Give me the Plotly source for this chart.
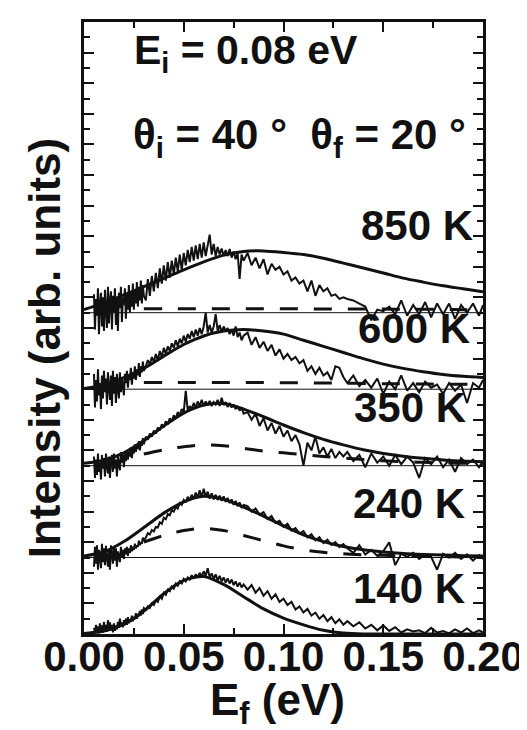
import plotly.graph_objects as go

# ---------------- data ----------------
temperatures = ["850 K", "600 K", "350 K", "240 K", "140 K"]
offsets = [10.5, 8.0, 5.5, 2.5, 0.0]

ef = [0.0050, 0.0055, 0.0060, 0.0065, 0.0070, 0.0075, 0.0080, 0.0085, 0.0090, 0.0095,
      0.0100, 0.0105, 0.0110, 0.0115, 0.0120, 0.0125, 0.0130, 0.0135, 0.0140, 0.0145,
      0.0150, 0.0155, 0.0160, 0.0165, 0.0170, 0.0175, 0.0180, 0.0185, 0.0190, 0.0195,
      0.0200, 0.0205, 0.0210, 0.0215, 0.0220, 0.0225, 0.0230, 0.0235, 0.0240, 0.0245,
      0.0250, 0.0255, 0.0260, 0.0265, 0.0270, 0.0275, 0.0280, 0.0285, 0.0290, 0.0295, 0.0300,
      0.031, 0.032, 0.033, 0.034, 0.035, 0.036, 0.037, 0.038, 0.039, 0.040,
      0.041, 0.042, 0.043, 0.044, 0.045, 0.046, 0.047, 0.048, 0.049, 0.050,
      0.051, 0.052, 0.053, 0.054, 0.055, 0.056, 0.057, 0.058, 0.059, 0.060,
      0.061, 0.062, 0.063, 0.064, 0.065, 0.066, 0.067, 0.068, 0.069, 0.070,
      0.071, 0.072, 0.073, 0.074, 0.075, 0.076, 0.077, 0.078, 0.079, 0.080,
      0.082, 0.084, 0.086, 0.088, 0.090, 0.092, 0.094, 0.096, 0.098, 0.100,
      0.102, 0.104, 0.106, 0.108, 0.110, 0.112, 0.114, 0.116, 0.118, 0.120,
      0.122, 0.124, 0.126, 0.128, 0.130,
      0.132, 0.135, 0.138, 0.141, 0.144, 0.147, 0.150, 0.153, 0.156, 0.159,
      0.162, 0.165, 0.168, 0.171, 0.174, 0.177, 0.180, 0.183, 0.186, 0.189,
      0.192, 0.195, 0.198, 0.200]

data_850 = [0.60, -0.55, 0.45, -0.10, 0.80, -0.70, 0.30, 0.65, -0.45, 0.50,
            -0.60, 0.75, 0.10, -0.50, 0.85, -0.35, 0.40, 0.70, -0.55, 0.55,
            0.00, 0.80, -0.40, 0.45, -0.60, 0.65, 0.15, 0.85, -0.30, 0.50,
            0.25, 0.80, -0.20, 0.60, 0.10, 0.90, 0.00, 0.70, 0.20, 0.95,
            0.10, 0.75, 0.30, 1.00, 0.20, 0.85, 0.40, 1.05, 0.30, 0.90, 0.55,
            0.40, 1.10, 0.55, 1.20, 0.70, 1.30, 0.80, 1.45, 0.95, 1.55,
            1.05, 1.65, 1.15, 1.70, 1.25, 1.80, 1.35, 1.90, 1.40, 1.95,
            1.55, 2.05, 1.65, 2.15, 1.70, 2.20, 1.75, 2.25, 1.80, 2.30,
            1.85, 2.20, 2.55, 1.90, 2.25, 1.85, 2.15, 1.90, 2.10, 1.85,
            2.05, 1.85, 2.08, 1.80, 2.00, 1.75, 1.95, 1.10, 1.90, 1.70,
            1.95, 1.55, 1.80, 1.45, 1.75, 1.25, 1.60, 1.40, 1.50, 1.25,
            1.35, 1.05, 1.15, 0.95, 1.05, 0.70, 1.05, 0.55, 0.90, 0.70,
            0.80, 0.55, 0.60, 0.45, 0.50,
            0.45, 0.40, 0.30, 0.20, -0.25, 0.10, 0.05, 0.20, -0.05, 0.40,
            -0.10, 0.25, -0.05, 0.35, -0.15, 0.30, -0.05, 0.30, -0.20, 0.25,
            0.00, 0.30, -0.10, 0.25]

data_600 = [0.50, -0.60, 0.30, -0.40, 0.65, -0.20, 0.20, -0.65, 0.45, -0.30,
            0.60, -0.10, 0.35, -0.50, 0.55, 0.05, -0.35, 0.45, -0.55, 0.60,
            -0.15, 0.40, -0.45, 0.50, 0.00, -0.30, 0.55, -0.10, 0.40, 0.10,
            -0.20, 0.50, 0.20, 0.60, 0.05, 0.45, 0.30, 0.70, 0.15, 0.55,
            0.35, 0.75, 0.30, 0.65, 0.45, 0.85, 0.40, 0.75, 0.55, 0.90, 0.60,
            0.75, 0.95, 0.80, 1.05, 0.90, 1.15, 0.95, 1.25, 1.05, 1.35,
            1.15, 1.40, 1.25, 1.50, 1.35, 1.60, 1.40, 1.65, 1.50, 1.75,
            1.55, 1.80, 1.65, 1.90, 1.70, 1.95, 1.75, 2.00, 1.80, 2.05,
            2.50, 1.85, 2.10, 1.85, 2.05, 2.45, 1.90, 2.10, 1.85, 2.05,
            1.90, 2.00, 1.80, 1.95, 1.75, 2.05, 1.70, 1.85, 1.60, 1.75,
            1.85, 1.45, 1.70, 1.35, 1.55, 1.25, 1.45, 1.10, 1.30, 1.00,
            1.15, 0.95, 1.05, 0.85, 0.95, 0.60, 0.75, 0.50, 0.70, 0.45,
            0.55, 0.30, 0.75, 0.70, 0.40,
            0.20, 0.45, 0.10, 0.30, 0.05, 0.35, -0.15, 0.25, 0.00, 0.45,
            -0.05, 0.20, -0.10, 0.25, 0.05, 0.15, -0.15, 0.20, -0.05, 0.15,
            -0.45, 0.20, 0.05, 0.30]

data_350 = [0.30, -0.40, 0.20, -0.30, 0.40, -0.20, 0.10, -0.45, 0.35, -0.10,
            0.25, -0.35, 0.40, 0.00, -0.25, 0.30, -0.40, 0.15, 0.35, -0.20,
            0.40, -0.10, 0.20, -0.35, 0.30, 0.05, -0.15, 0.45, 0.10, 0.35,
            -0.05, 0.40, 0.15, 0.50, 0.20, 0.45, 0.30, 0.60, 0.25, 0.55,
            0.40, 0.70, 0.45, 0.65, 0.55, 0.80, 0.50, 0.75, 0.65, 0.90, 0.70,
            0.95, 0.85, 1.05, 0.95, 1.15, 1.05, 1.25, 1.15, 1.35, 1.25,
            1.45, 1.35, 1.55, 1.45, 1.65, 1.55, 1.75, 1.65, 1.85, 1.75,
            2.45, 1.80, 1.95, 1.85, 2.05, 1.90, 2.10, 1.95, 2.15, 1.95,
            2.10, 1.98, 2.12, 1.95, 2.08, 2.00, 2.15, 1.95, 2.22, 1.98,
            2.08, 1.92, 2.05, 1.90, 2.00, 1.85, 1.95, 1.80, 1.90, 1.70,
            1.75, 1.50, 1.70, 1.30, 1.55, 1.15, 1.40, 1.05, 1.30, 0.95,
            1.15, 0.80, 1.00, 0.70, 0.00, 0.75, 0.50, 0.95, 0.40, 0.60,
            0.30, 0.55, 0.25, 0.45, 0.30,
            0.45, 0.15, 0.35, -0.05, 0.40, 0.10, 0.30, 0.00, 0.35, 0.05,
            0.30, 0.10, -0.40, 0.25, 0.05, 0.30, -0.05, 0.20, -0.20, 0.25,
            0.05, 0.20, -0.05, 0.15]

data_240 = [-0.30, 0.35, -0.20, 0.40, -0.40, 0.25, 0.05, -0.35, 0.45, -0.15,
            0.30, -0.25, 0.38, 0.00, -0.30, 0.25, -0.40, 0.40, 0.10, -0.20,
            0.35, -0.10, 0.30, -0.30, 0.20, 0.05, -0.15, 0.35, 0.00, 0.25,
            -0.05, 0.30, 0.10, 0.35, 0.05, 0.30, 0.15, 0.40, 0.20, 0.35,
            0.25, 0.45, 0.30, 0.40, 0.35, 0.55, 0.40, 0.50, 0.45, 0.65, 0.55,
            0.65, 0.80, 0.75, 0.90, 0.85, 1.00, 0.98, 1.15, 1.10, 1.30,
            1.25, 1.42, 1.38, 1.55, 1.50, 1.65, 1.60, 1.78, 1.72, 1.88,
            1.80, 1.98, 1.88, 2.05, 1.92, 2.12, 1.95, 2.20, 1.95, 2.25,
            1.98, 2.15, 1.92, 2.10, 1.90, 2.05, 1.88, 2.02, 1.85, 2.00,
            1.82, 1.95, 1.78, 1.90, 1.72, 1.85, 1.68, 1.80, 1.62, 1.72,
            1.68, 1.50, 1.60, 1.40, 1.48, 1.26, 1.36, 1.13, 1.20, 1.00,
            1.10, 0.88, 0.96, 0.78, 0.86, 0.66, 0.76, 0.56, 0.66, 0.47,
            0.58, 0.41, 0.50, 0.34, 0.44,
            0.30, 0.15, 0.40, 0.10, 0.25, 0.05, 0.20, 0.50, -0.25, 0.12,
            0.02, 0.15, -0.05, 0.10, 0.02, -0.40, 0.12, 0.00, 0.15, -0.05,
            0.10, -0.10, 0.08, -0.05]

data_140 = [0.20, 0.05, 0.30, 0.10, 0.25, 0.02, 0.35, 0.12, 0.28, 0.05,
            0.40, 0.15, 0.30, 0.08, 0.45, 0.18, 0.38, 0.12, 0.30, 0.05,
            0.35, 0.10, 0.28, 0.15, 0.40, 0.20, 0.50, 0.25, 0.38, 0.22,
            0.45, 0.28, 0.50, 0.30, 0.55, 0.35, 0.48, 0.40, 0.60, 0.42,
            0.55, 0.48, 0.68, 0.50, 0.62, 0.58, 0.75, 0.60, 0.80, 0.65, 0.85,
            0.80, 0.90, 0.85, 1.00, 0.95, 1.10, 1.05, 1.22, 1.15, 1.35,
            1.28, 1.45, 1.40, 1.55, 1.48, 1.65, 1.58, 1.72, 1.65, 1.80,
            1.72, 1.85, 1.78, 1.92, 1.82, 1.95, 1.85, 2.00, 1.88, 2.05,
            1.90, 2.15, 1.85, 1.98, 1.80, 1.95, 1.75, 1.90, 1.72, 1.85,
            1.68, 1.82, 1.65, 1.78, 1.60, 1.72, 1.55, 1.68, 1.52, 1.62,
            1.45, 1.60, 1.35, 1.50, 1.25, 1.40, 1.15, 1.30, 1.05, 1.15,
            0.95, 1.05, 0.80, 0.90, 0.70, 0.82, 0.60, 0.70, 0.50, 0.62,
            0.42, 0.55, 0.35, 0.48, 0.30,
            0.42, 0.25, 0.38, 0.18, 0.30, 0.12, 0.28, 0.10, 0.22, 0.05,
            0.15, 0.08, 0.12, 0.03, 0.20, 0.05, 0.10, 0.02, 0.15, 0.05,
            0.18, 0.03, 0.12, 0.05]

fit_x = [0.00, 0.01, 0.02, 0.03, 0.04, 0.05, 0.06, 0.07, 0.08, 0.09, 0.10,
         0.11, 0.12, 0.13, 0.14, 0.15, 0.16, 0.17, 0.18, 0.19, 0.20]
fit_850 = [0.10, 0.32, 0.58, 0.85, 1.12, 1.40, 1.66, 1.88, 2.00, 2.02, 1.97,
           1.90, 1.78, 1.62, 1.46, 1.30, 1.13, 1.00, 0.88, 0.78, 0.68]
fit_600 = [0.02, 0.15, 0.38, 0.68, 1.08, 1.46, 1.74, 1.90, 1.95, 1.90, 1.80,
           1.60, 1.40, 1.20, 1.00, 0.82, 0.68, 0.57, 0.48, 0.42, 0.38]
fit_350 = [0.08, 0.18, 0.42, 0.82, 1.30, 1.72, 1.98, 2.03, 1.85, 1.60, 1.33,
           1.08, 0.86, 0.68, 0.52, 0.40, 0.31, 0.24, 0.19, 0.15, 0.13]
fit_240 = [0.05, 0.18, 0.52, 0.98, 1.45, 1.82, 2.00, 1.90, 1.65, 1.35, 1.03,
           0.74, 0.52, 0.36, 0.25, 0.18, 0.13, 0.10, 0.08, 0.06, 0.05]
fit_140 = [0.02, 0.10, 0.32, 0.75, 1.32, 1.75, 1.88, 1.62, 1.22, 0.82, 0.52,
           0.30, 0.12, 0.03, 0.00, 0.00, 0.00, 0.00, 0.00, 0.00, 0.00]

dash_x = [0.03, 0.04, 0.05, 0.06, 0.07, 0.08, 0.09, 0.10, 0.11,
          0.12, 0.13, 0.14, 0.15, 0.16, 0.17, 0.18, 0.19, 0.20]
dash_850 = [0.13, 0.13, 0.13, 0.13, 0.13, 0.13, 0.13, 0.13, 0.13,
            0.12, 0.12, 0.12, 0.12, 0.11, 0.11, 0.11, 0.10, 0.10]
dash_600 = [0.22, 0.22, 0.22, 0.22, 0.22, 0.22, 0.22, 0.21, 0.21,
            0.20, 0.20, 0.19, 0.18, 0.18, 0.17, 0.16, 0.16, 0.15]
dash_350 = [0.38, 0.52, 0.62, 0.68, 0.65, 0.57, 0.48, 0.42, 0.36,
            0.30, 0.25, 0.20, 0.16, 0.13, 0.11, 0.09, 0.08, 0.07]
dash_240 = [0.50, 0.72, 0.88, 0.95, 0.88, 0.72, 0.55, 0.38, 0.25,
            0.17, 0.12, 0.09, 0.07, 0.05, 0.04, 0.03, 0.02, 0.02]

data_sets = [data_850, data_600, data_350, data_240, data_140]
fit_sets = [fit_850, fit_600, fit_350, fit_240, fit_140]
dash_sets = [dash_850, dash_600, dash_350, dash_240, None]

x_ticks = [0.00, 0.05, 0.10, 0.15, 0.20]
x_tick_labels = ["0.00", "0.05", "0.10", "0.15", "0.20"]

for d in data_sets:
    assert len(d) == len(ef), (len(d), len(ef))

# ---------------- figure ----------------
INK = "#111111"
FONT = "Liberation Sans, Arial, sans-serif"
fig = go.Figure()

for off, d, f, ds in zip(offsets, data_sets, fit_sets, dash_sets):
    if off > 0:
        fig.add_trace(go.Scatter(x=[fit_x[0], fit_x[-1]], y=[off, off], mode="lines",
                                 line=dict(color=INK, width=1), hoverinfo="skip"))
    fig.add_trace(go.Scatter(x=ef, y=[v + off for v in d], mode="lines",
                             line=dict(color=INK, width=2.0, simplify=False)))
    if ds is not None:
        fig.add_trace(go.Scatter(x=dash_x, y=[v + off for v in ds], mode="lines",
                                 line=dict(color=INK, width=3, dash="18px,16px", shape="spline")))
    fig.add_trace(go.Scatter(x=fit_x, y=[v + off for v in f], mode="lines",
                             line=dict(color=INK, width=3, shape="spline", smoothing=0.8)))

label_y = [13.34, 9.99, 7.39, 4.27, 1.5]
label_x = [0.196, 0.1945, 0.1925, 0.192, 0.192]
for t, lx, ly in zip(temperatures, label_x, label_y):
    fig.add_annotation(x=lx, y=ly, xref="x", yref="y", text=t, showarrow=False,
                       xanchor="right", yanchor="middle",
                       font=dict(family=FONT, size=42, color=INK, weight="bold"))

fig.add_annotation(x=0.0240, y=19.0, xref="x", yref="y",
                   text="E<sub>i</sub> = 0.08 eV", showarrow=False,
                   xanchor="left", yanchor="middle",
                   font=dict(family=FONT, size=41, color=INK, weight="bold"))
fig.add_annotation(x=0.0235, y=16.22, xref="x", yref="y",
                   text="θ<sub>i</sub> = 40 °  θ<sub>f</sub> = 20 °", showarrow=False,
                   xanchor="left", yanchor="middle",
                   font=dict(family=FONT, size=42, color=INK, weight="bold"))

fig.add_annotation(x=-0.10, y=0.467, xref="paper", yref="paper",
                   text="Intensity (arb. units)", showarrow=False, textangle=-90,
                   xanchor="center", yanchor="middle",
                   font=dict(family=FONT, size=44, color=INK, weight="bold"))
fig.add_annotation(x=0.484, y=-0.113, xref="paper", yref="paper",
                   text="E<sub>f</sub> (eV)", showarrow=False,
                   xanchor="center", yanchor="middle",
                   font=dict(family=FONT, size=44, color=INK, weight="bold"))

fig.update_layout(
    width=527, height=730,
    margin=dict(l=76, r=46, t=11, b=104),
    paper_bgcolor="white", plot_bgcolor="white",
    showlegend=False,
    xaxis=dict(range=[0, 0.20], tickvals=x_ticks, ticktext=x_tick_labels,
               ticks="inside", ticklen=10, tickwidth=2, tickcolor=INK,
               showline=True, linewidth=3, linecolor=INK, mirror="allticks",
               showgrid=False, zeroline=False, ticklabelstandoff=-16,
               tickfont=dict(family=FONT, size=42, color=INK, weight="bold"),
               minor=dict(dtick=0.025, tick0=0, ticks="inside", ticklen=6, tickwidth=2,
                          tickcolor=INK, showgrid=False)),
    yaxis=dict(range=[0, 20], dtick=1, tick0=0, showticklabels=False,
               ticks="inside", ticklen=10, tickwidth=2, tickcolor=INK,
               showline=True, linewidth=3, linecolor=INK, mirror="allticks",
               showgrid=False, zeroline=False,
               minor=dict(dtick=0.5, tick0=0, ticks="inside", ticklen=6, tickwidth=2,
                          tickcolor=INK, showgrid=False)),
)

fig.write_html("out.html")
